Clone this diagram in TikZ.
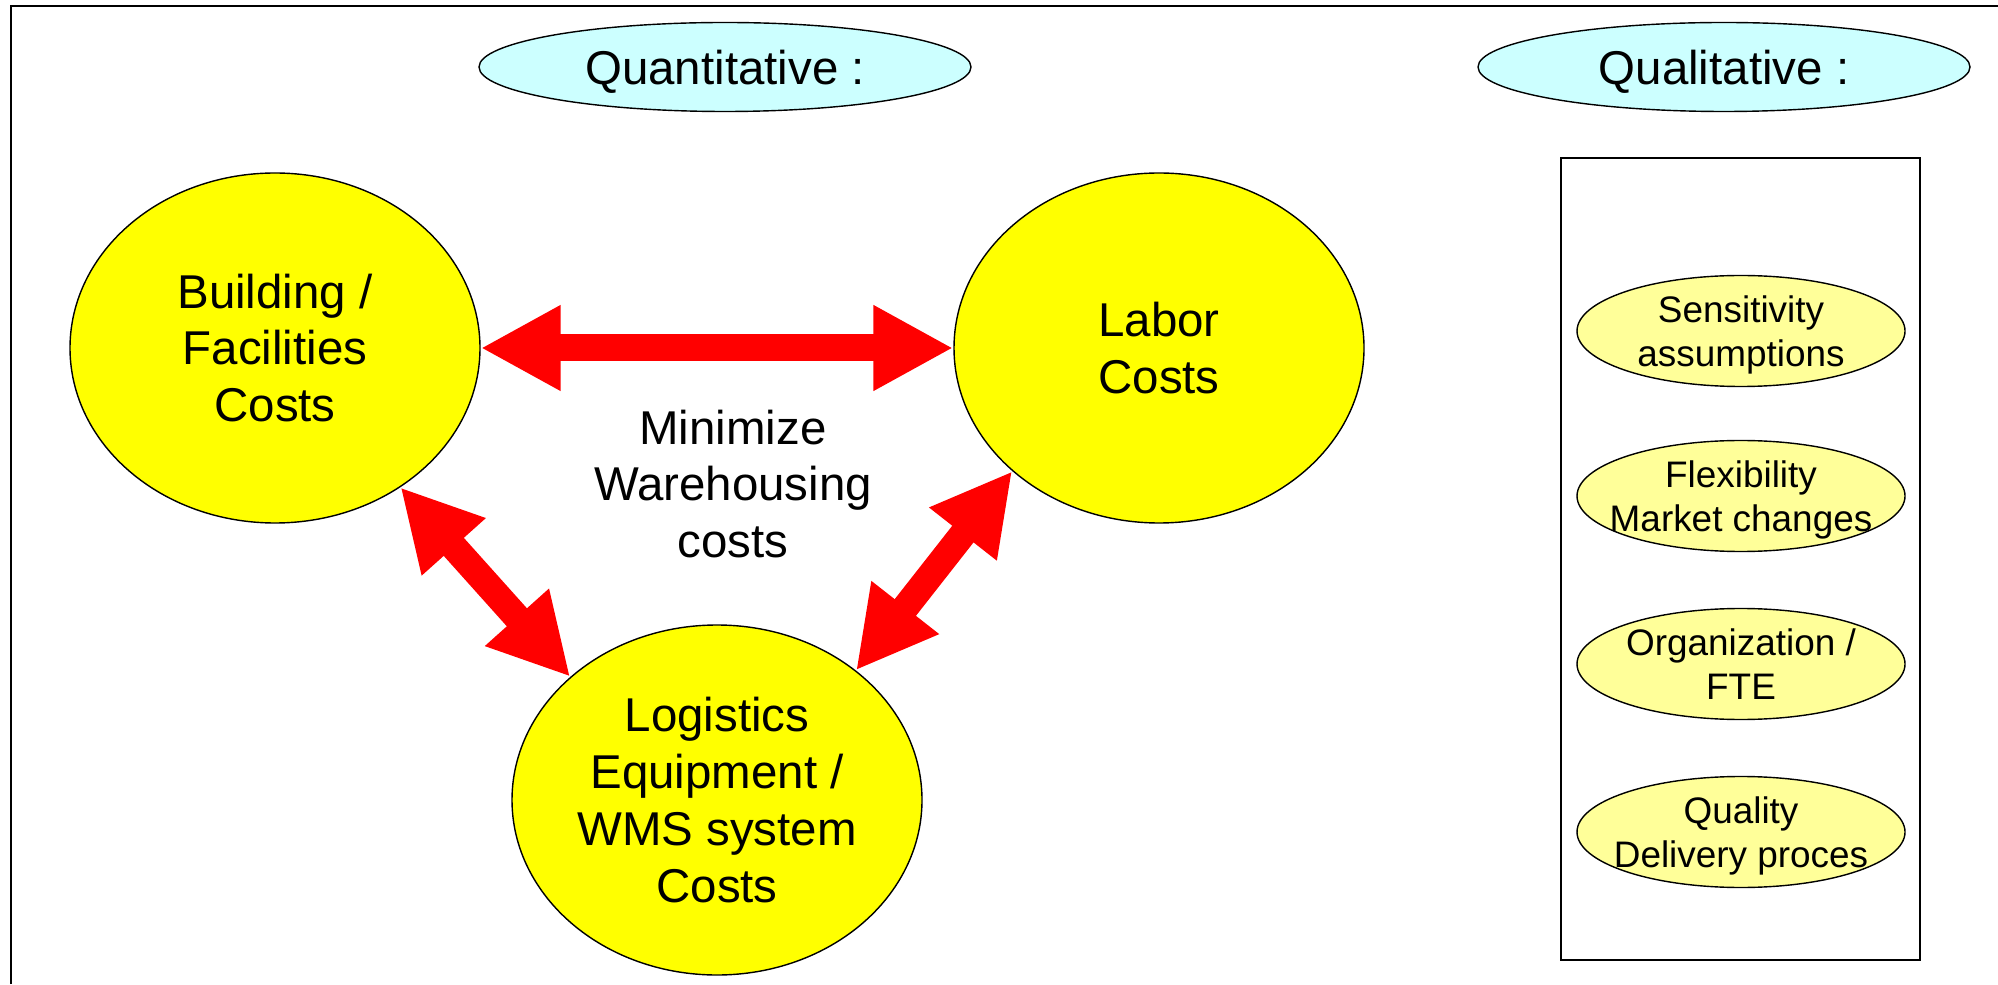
\documentclass[tikz,border=0pt]{standalone}
\usepackage{fontspec}
\setmainfont{Liberation Sans}
\usetikzlibrary{shapes.geometric,arrows.meta}
\definecolor{costyellow}{RGB}{255,255,0}
\definecolor{tagcyan}{RGB}{204,255,255}
\definecolor{softyellow}{RGB}{255,255,153}

\begin{document}
\begin{tikzpicture}[
			big/.style={ellipse,draw,fill=costyellow,inner sep=0pt,minimum width=4.1cm,minimum height=3.5cm,align=center,font=\fontsize{13.5}{16.2}\selectfont},
			tag/.style={ellipse,draw,fill=tagcyan,inner sep=0pt,text depth=0pt,minimum width=4.92cm,minimum height=0.89cm,font=\fontsize{13.5}{16.2}\selectfont},
			soft/.style={ellipse,draw,fill=softyellow,inner xsep=-0.2cm,inner ysep=-0.1cm,text depth=0pt,minimum width=3.28cm,minimum height=1.11cm,align=center,font=\fontsize{10.5}{12.7}\selectfont},
			link/.style={draw=red,line width=0.27cm,{Triangle[length=0.8cm,width=0.8cm]}-{Triangle[length=0.8cm,width=0.8cm]}}
		]
		\useasboundingbox (0,0) rectangle (19.98,9.84);
		\draw[line width=0.7pt] (0.11,0) -- (0.11,9.78) -- (19.98,9.78);

		\node[tag] (quant) at (7.25,9.17) {Quantitative :};
		\node[tag] (qual) at (17.24,9.17) {Qualitative :};

		\node[big] (bld) at (2.75,6.36) {Building /\\Facilities\\Costs};
		\node[big] (lab) at (11.59,6.36) {Labor\\Costs};
		\node[big] (log) at (7.17,1.84) {Logistics\\Equipment /\\WMS system\\Costs};
		\node[align=center,font=\fontsize{13.5}{16.2}\selectfont] (mid) at (7.33,5.0) {Minimize\\Warehousing\\costs};

		\draw[link] (bld) -- (lab);
		\draw[link] (bld.-48) -- (log.140);
		\draw[link] (lab.220.6) -- (log.43.6);

		\node[draw,line width=0.6pt,minimum width=3.59cm,minimum height=8.02cm] (box) at (17.405,4.25) {};
		\node[soft] (q1) at (17.41,6.53) {Sensitivity\\assumptions};
		\node[soft] (q2) at (17.41,4.88) {Flexibility\\Market changes};
		\node[soft] (q3) at (17.41,3.20) {Organization /\\FTE};
		\node[soft] (q4) at (17.41,1.52) {Quality\\Delivery proces};
	\end{tikzpicture}
\end{document}
